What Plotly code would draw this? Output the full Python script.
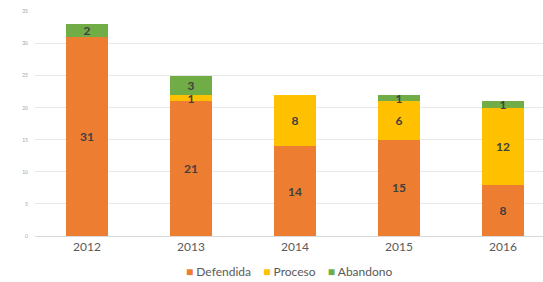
import plotly.graph_objects as go

years = ["2012", "2013", "2014", "2015", "2016"]
defendida = [31, 21, 14, 15, 8]
proceso = [0, 1, 8, 6, 12]
abandono = [2, 3, 0, 1, 1]
y_ticks = [0, 5, 10, 15, 20, 25, 30, 35]

series = [
    ("Defendida", defendida, "#ED7D31"),
    ("Proceso", proceso, "#FFC000"),
    ("Abandono", abandono, "#70AD47"),
]

fig = go.Figure()
for name, vals, color in series:
    fig.add_trace(go.Bar(
        x=years, y=vals, name=name,
        marker=dict(color=color, line=dict(width=0)),
        text=[str(v) if v else "" for v in vals],
        textposition="inside", insidetextanchor="middle", textangle=0,
        textfont=dict(color="#404040", size=12, family="Lato"),
        texttemplate="<b>%{text}</b>",
        width=0.4,
    ))

legend_text = "    ".join(
    f'<span style="color:{c}">■</span> {n}' for n, _, c in series
)
fig.add_annotation(
    x=0.5, xref="x domain", y=-(271 - 236) / 225, yref="paper", text=legend_text,
    showarrow=False, xanchor="center", yanchor="middle",
    font=dict(size=12, color="#595959", family="Lato"),
)

fig.update_layout(
    barmode="stack",
    width=543, height=282,
    margin=dict(l=35, r=0, t=11, b=46, autoexpand=False),
    paper_bgcolor="white", plot_bgcolor="white",
    font=dict(family="Lato", color="#595959"),
    uniformtext=dict(minsize=12, mode="show"),
    showlegend=False,
    xaxis=dict(range=[-0.5, 4.385], tickfont=dict(size=12, color="#595959"),
               showline=True, linecolor="#d9d9d9", ticks="", showgrid=False,
               automargin=False),
    yaxis=dict(range=[0, 35.1], tickvals=y_ticks, tickfont=dict(size=5, color="#a6a6a6"),
               showgrid=True, gridcolor="#e8e8e8", zeroline=False, ticks="",
               ticklabelstandoff=6, automargin=False),
)

fig.write_html("out.html", config={"displayModeBar": False},
               post_script="document.body.style.margin='0';document.body.style.overflow='hidden';")
